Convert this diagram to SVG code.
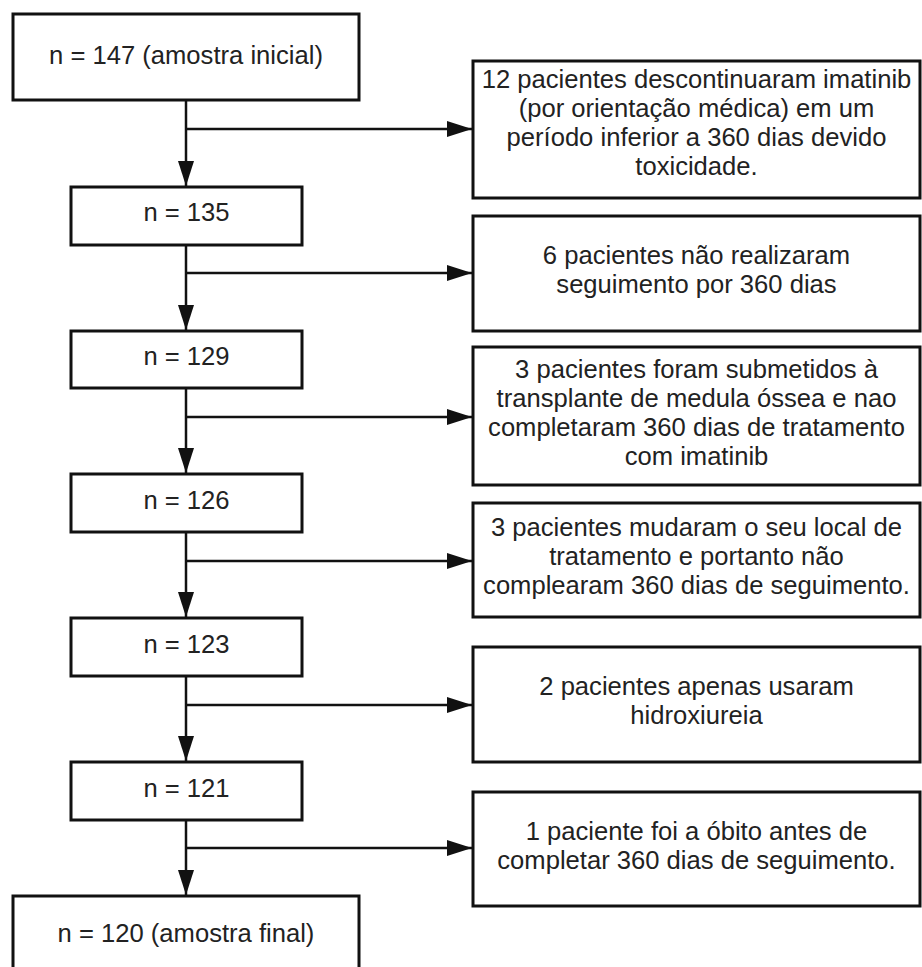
<svg xmlns="http://www.w3.org/2000/svg" width="922" height="967" viewBox="0 0 922 967">
<style>
.box{fill:#fff;stroke:#111;stroke-width:3}
.t{font-family:"Liberation Sans",Arial,sans-serif;font-size:25.6px;fill:#222;text-anchor:middle}
.c{fill:none;stroke:#111;stroke-width:2.5}
</style>
<defs>
<marker id="ah" markerUnits="userSpaceOnUse" markerWidth="26" markerHeight="16" refX="25" refY="8" orient="auto">
<path d="M0,0 L25,8 L0,16 z" fill="#111"/>
</marker>
</defs>
<rect width="922" height="967" fill="#fff"/>
<g id="connectors">
<path class="c" d="M186,100 V186" marker-end="url(#ah)"/>
<path class="c" d="M186,129 H472" marker-end="url(#ah)"/>
<path class="c" d="M186,245 V330" marker-end="url(#ah)"/>
<path class="c" d="M186,273 H472" marker-end="url(#ah)"/>
<path class="c" d="M186,388 V473" marker-end="url(#ah)"/>
<path class="c" d="M186,417 H472" marker-end="url(#ah)"/>
<path class="c" d="M186,532 V617" marker-end="url(#ah)"/>
<path class="c" d="M186,561 H472" marker-end="url(#ah)"/>
<path class="c" d="M186,676 V761" marker-end="url(#ah)"/>
<path class="c" d="M186,705 H472" marker-end="url(#ah)"/>
<path class="c" d="M186,820 V895" marker-end="url(#ah)"/>
<path class="c" d="M186,848 H472" marker-end="url(#ah)"/>
</g>
<g id="n147"><rect class="box" x="13" y="14" width="346" height="86"/><text class="t" x="186" y="64">n = 147 (amostra inicial)</text></g>
<g id="n135"><rect class="box" x="71" y="187" width="231" height="58"/><text class="t" x="186.5" y="221">n = 135</text></g>
<g id="n129"><rect class="box" x="71" y="331" width="231" height="57"/><text class="t" x="186.5" y="365">n = 129</text></g>
<g id="n126"><rect class="box" x="71" y="474" width="231" height="58"/><text class="t" x="186.5" y="509">n = 126</text></g>
<g id="n123"><rect class="box" x="71" y="618" width="231" height="58"/><text class="t" x="186.5" y="653">n = 123</text></g>
<g id="n121"><rect class="box" x="71" y="762" width="231" height="58"/><text class="t" x="186.5" y="797">n = 121</text></g>
<g id="n120"><rect class="box" x="13" y="896" width="346" height="86"/><text class="t" x="186" y="942">n = 120 (amostra final)</text></g>
<g id="r1"><rect class="box" x="473" y="61" width="447" height="137"/>
<text class="t" x="696.5" y="88">12 pacientes descontinuaram imatinib</text>
<text class="t" x="696.5" y="117">(por orientação médica) em um</text>
<text class="t" x="696.5" y="146">período inferior a 360 dias devido</text>
<text class="t" x="696.5" y="175">toxicidade.</text></g>
<g id="r2"><rect class="box" x="473" y="216" width="447" height="115"/>
<text class="t" x="696.5" y="264">6 pacientes não realizaram</text>
<text class="t" x="696.5" y="293">seguimento por 360 dias</text></g>
<g id="r3"><rect class="box" x="473" y="347" width="447" height="138"/>
<text class="t" x="696.5" y="378">3 pacientes foram submetidos à</text>
<text class="t" x="696.5" y="407">transplante de medula óssea e nao</text>
<text class="t" x="696.5" y="436">completaram 360 dias de tratamento</text>
<text class="t" x="696.5" y="465">com imatinib</text></g>
<g id="r4"><rect class="box" x="473" y="503" width="447" height="114"/>
<text class="t" x="696.5" y="536">3 pacientes mudaram o seu local de</text>
<text class="t" x="696.5" y="565">tratamento e portanto não</text>
<text class="t" x="696.5" y="594">complearam 360 dias de seguimento.</text></g>
<g id="r5"><rect class="box" x="473" y="647" width="447" height="115"/>
<text class="t" x="696.5" y="695">2 pacientes apenas usaram</text>
<text class="t" x="696.5" y="724">hidroxiureia</text></g>
<g id="r6"><rect class="box" x="473" y="792" width="447" height="114"/>
<text class="t" x="696.5" y="840">1 paciente foi a óbito antes de</text>
<text class="t" x="696.5" y="869">completar 360 dias de seguimento.</text></g>
</svg>
